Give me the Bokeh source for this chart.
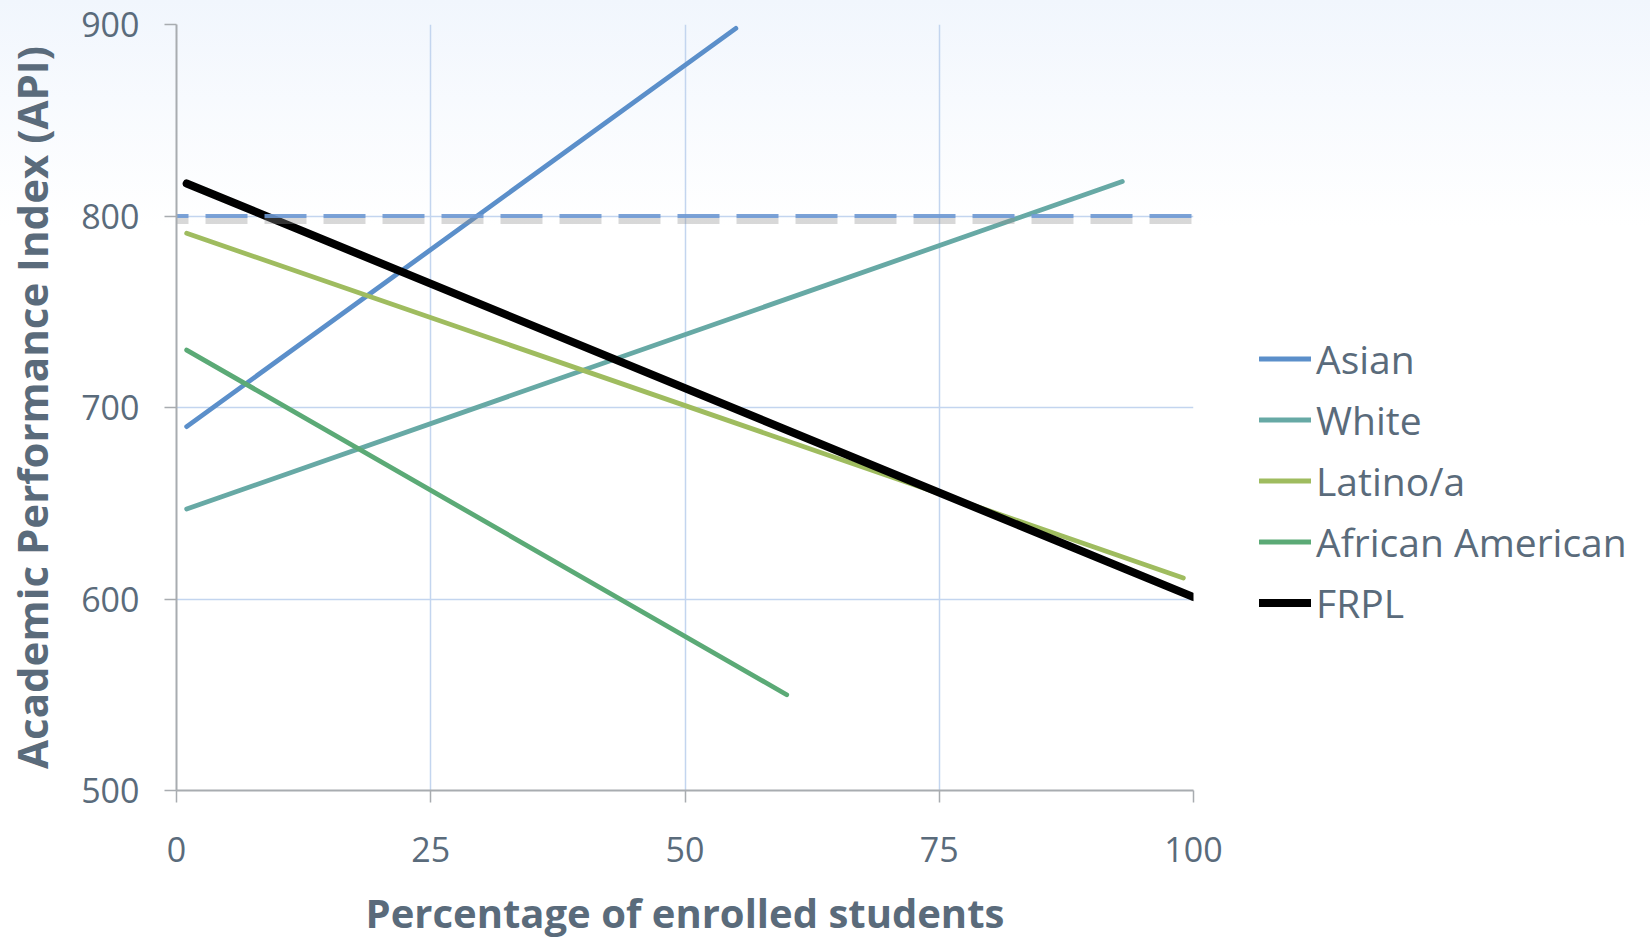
from bokeh.plotting import figure
from bokeh.models import Legend, LegendItem, Range1d, FixedTicker
from bokeh.embed import file_html
from bokeh.resources import INLINE

# ---- data ----
groups = ["Asian", "White", "Latino/a", "African American", "FRPL"]
x_start = [1, 1, 1, 1, 1]
y_start = [690, 647, 791, 730, 817]
x_end = [55, 93, 99, 60, 100]
y_end = [898, 818, 611, 550, 601]
threshold = 800
x_ticks = [0, 25, 50, 75, 100]
y_ticks = [500, 600, 700, 800, 900]

# ---- styles ----
colors = ["#5b8fca", "#67a9a5", "#9fbc5f", "#5baa76", "#000000"]
widths = [4.8, 4.8, 4.8, 4.8, 8]
TXT = "#5a6b7b"
GRID = "#c3d5ef"

p = figure(frame_width=1017, frame_height=766, output_backend="svg", toolbar_location=None,
           x_range=Range1d(0, 100), y_range=Range1d(500, 900),
           min_border_left=171, min_border_right=0, min_border_top=24,
           min_border_bottom=140)
p.background_fill_color = None
p.border_fill_color = None
p.outline_line_color = None
p.styles = {"background": "linear-gradient(180deg, #f1f6fd 0%, #ffffff 24%, #ffffff 100%)"}

p.xaxis.ticker = FixedTicker(ticks=x_ticks)
p.yaxis.ticker = FixedTicker(ticks=y_ticks)
p.xgrid.ticker = FixedTicker(ticks=x_ticks)
p.ygrid.ticker = FixedTicker(ticks=y_ticks)
for g in (p.xgrid, p.ygrid):
    g.grid_line_color = GRID
    g.grid_line_width = 1.5

for ax in (p.xaxis, p.yaxis):
    ax.axis_line_color = "#a8acb0"
    ax.axis_line_width = 2
    ax.major_tick_line_color = "#a8acb0"
    ax.major_tick_line_width = 1.5
    ax.major_tick_out = 12
    ax.major_tick_in = 0
    ax.minor_tick_line_color = None
    ax.major_label_text_color = TXT
    ax.major_label_text_font = "Open Sans"
    ax.major_label_text_font_size = "34px"
    ax.axis_label_text_color = TXT
    ax.axis_label_text_font = "Open Sans"
    ax.axis_label_text_font_style = "bold"

p.xaxis.axis_label_text_font_size = "40px"
p.yaxis.axis_label_text_font_size = "42px"
p.xaxis.axis_label = "Percentage of enrolled students"
p.yaxis.axis_label = "Academic Performance Index (API)"
p.xaxis.major_label_standoff = 34
p.yaxis.major_label_standoff = 25
p.xaxis.axis_label_standoff = 20
p.yaxis.axis_label_standoff = 18

items = []
for i, name in enumerate(groups):
    r = p.line([x_start[i], x_end[i]], [y_start[i], y_end[i]],
               line_color=colors[i], line_width=widths[i], line_cap="round")
    items.append(LegendItem(label=name, renderers=[r]))

# threshold dashed line with soft shadow
p.line([x_ticks[0], x_ticks[-1]], [threshold - 2.6, threshold - 2.6],
       line_color="#8f8f8f", line_alpha=0.35, line_width=6,
       line_dash="42 17", line_dash_offset=30)
p.line([x_ticks[0], x_ticks[-1]], [threshold, threshold],
       line_color="#6d98d1", line_alpha=0.9, line_width=4,
       line_dash="42 17", line_dash_offset=30)

legend = Legend(items=items, location=(66, 157),
                glyph_width=52, glyph_height=61, label_height=61,
                spacing=0, padding=0, margin=0, label_standoff=5,
                border_line_color=None, background_fill_alpha=0,
                label_text_font="Open Sans", label_text_font_size="39px",
                label_text_color=TXT)
p.add_layout(legend, "right")

open("out.html", "w").write(file_html(p, INLINE))
